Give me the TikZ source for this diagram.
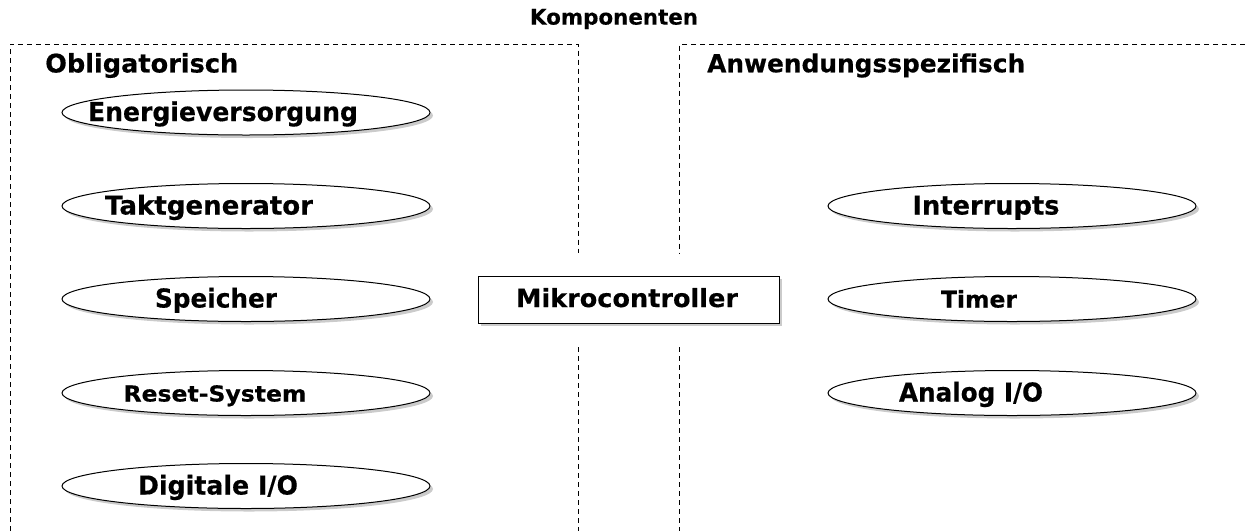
\documentclass[tikz,border=0pt]{standalone}
\usepackage{fontspec}
\setmainfont{DejaVu Sans}[BoldFeatures={FakeBold=0.4}]
\usetikzlibrary{shapes.geometric,shadows}
\newcommand{\fitw}[2]{\resizebox{#1pt}{!}{\fontsize{25}{30}\selectfont\bfseries #2}}
\newcommand{\fith}[3]{\resizebox{#1pt}{\height}{\fontsize{#2}{#2}\selectfont\bfseries #3}}
\tikzset{
  frame/.style={draw=black, line width=0.9pt, dash pattern=on 5pt off 4pt},
  ell/.style={ellipse, draw=black, line width=1pt, fill=white, minimum width=368pt, minimum height=45pt, inner sep=0pt,
    drop shadow={shadow xshift=3pt, shadow yshift=-3pt, fill=black!45, opacity=0.45}},
  box/.style={rectangle, draw=black, line width=1pt, fill=white, minimum width=301pt, minimum height=47pt, inner sep=0pt,
    drop shadow={shadow xshift=3pt, shadow yshift=-3pt, fill=black!45, opacity=0.45}},
  lbl/.style={inner sep=0pt, anchor=center},
  txt/.style={inner sep=0pt, anchor=base},
  head/.style={inner sep=0pt, anchor=west},
}
\begin{document}
\begin{tikzpicture}[x=1pt, y=-1pt]
\useasboundingbox (0,0) rectangle (1245,531);
% frames
\draw[frame] (10,531) -- (10,44) -- (578.5,44) -- (578.5,253);
\draw[frame] (578.5,347) -- (578.5,531);
\draw[frame] (1245,44) -- (679.5,44) -- (679.5,253);
\draw[frame] (679.5,347) -- (679.5,531);
% titles
\node[lbl] (title) at (614,19) {\fitw{168}{Komponenten}};
\node[head] (obl) at (45,65.5) {\fitw{193}{Obligatorisch}};
\node[head] (anw) at (707,65.5) {\fitw{318}{Anwendungsspezifisch}};
% left ellipses
\node[ell] (e1) at (246,112.5) {};
\node[txt] (t1) at (223,121) {\fith{270}{26}{Energieversorgung}};
\node[ell] (e2) at (246,206) {};
\node[txt] (t2) at (209,214.5) {\fith{208}{26}{Taktgenerator}};
\node[ell] (e3) at (246,299) {};
\node[txt] (t3) at (216,307.5) {\fith{122}{26}{Speicher}};
\node[ell] (e4) at (246,393) {};
\node[txt] (t4) at (215,401.5) {\fith{183}{22}{Reset-System}};
\node[ell] (e5) at (246,486) {};
\node[txt] (t5) at (218,494.5) {\fith{160}{26}{Digitale I/O}};
% right ellipses
\node[ell] (r1) at (1012,206) {};
\node[txt] (s1) at (986,214.5) {\fith{147}{26}{Interrupts}};
\node[ell] (r2) at (1012,299) {};
\node[txt] (s2) at (979,307.5) {\fith{76}{23}{Timer}};
\node[ell] (r3) at (1012,393) {};
\node[txt] (s3) at (971,401.5) {\fith{144}{26}{Analog I/O}};
% central box
\node[box] (mc) at (628.5,299.5) {};
\node[txt] (mct) at (627,307) {\fith{222}{25}{Mikrocontroller}};
\end{tikzpicture}
\end{document}
